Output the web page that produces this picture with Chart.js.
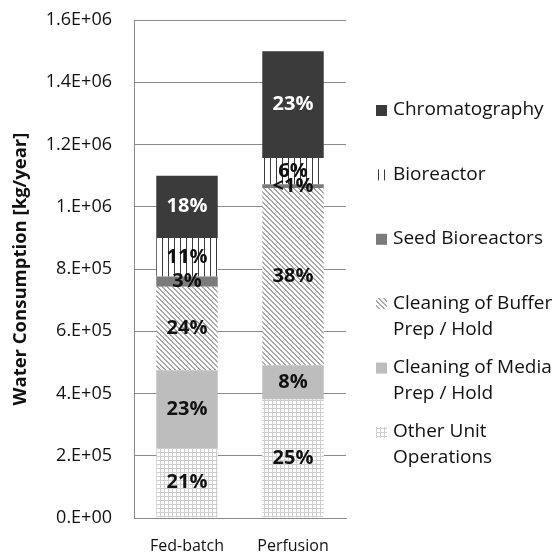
<!DOCTYPE html>
<html>
<head>
<meta charset="utf-8">
<script src="https://cdn.jsdelivr.net/npm/chart.js@4"></script>
<style>
  html, body { margin: 0; padding: 0; background: #fff; }
  #wrap { width: 557px; height: 554px; position: relative; }
</style>
</head>
<body>
<div id="wrap"><canvas id="waterChart"></canvas></div>
<script>
const categories = ['Fed-batch', 'Perfusion'];

// kg/year, bottom of stack first
const otherUnitOps = [225000, 381000];
const cleaningMedia = [250000, 110000];
const cleaningBuffer = [268000, 569000];
const seedBioreactors = [33000, 12000];
const bioreactor = [124000, 85000];
const chromatography = [200000, 343000];

const otherLabels = ['21%', '25%'];
const mediaLabels = ['23%', '8%'];
const bufferLabels = ['24%', '38%'];
const seedLabels = ['3%', '<1%'];
const bioreactorLabels = ['11%', '6%'];
const chromLabels = ['18%', '23%'];

const yTickLabels = ['0.E+00', '2.E+05', '4.E+05', '6.E+05', '8.E+05', '1.E+06', '1.2E+06', '1.4E+06', '1.6E+06'];

const FONT = '"Open Sans", "Noto Sans", sans-serif';

const makePattern = (w, h, draw) => {
    const c = document.createElement('canvas');
    c.width = w;
    c.height = h;
    const g = c.getContext('2d');
    g.fillStyle = '#ffffff';
    g.fillRect(0, 0, w, h);
    draw(g, w, h);
    return document.createElement('canvas').getContext('2d').createPattern(c, 'repeat');
};

const gridPattern = makePattern(4, 4, (g) => {
    g.fillStyle = '#cfcfcf';
    g.fillRect(0, 0, 4, 1);
    g.fillRect(0, 0, 1, 4);
});

const diagPattern = makePattern(5, 5, (g) => {
    g.fillStyle = '#a9a9a9';
    for (let y = 0; y < 5; y++) {
        for (let x = 0; x < 5; x++) {
            const d = ((x - y) % 5 + 5) % 5;
            if (d === 0 || d === 1) g.fillRect(x, y, 1, 1);
        }
    }
});

const vertPattern = makePattern(6, 1, (g) => {
    g.fillStyle = '#3a3a3a';
    g.fillRect(0, 0, 1, 1);
});

const series = [
    { name: ['Other Unit', 'Operations'], data: otherUnitOps, labels: otherLabels, fill: gridPattern, text: '#111' },
    { name: ['Cleaning of Media', 'Prep / Hold'], data: cleaningMedia, labels: mediaLabels, fill: '#bdbdbd', text: '#111' },
    { name: ['Cleaning of Buffer', 'Prep / Hold'], data: cleaningBuffer, labels: bufferLabels, fill: diagPattern, text: '#111' },
    { name: ['Seed Bioreactors'], data: seedBioreactors, labels: seedLabels, fill: '#7b7b7b', text: '#111' },
    { name: ['Bioreactor'], data: bioreactor, labels: bioreactorLabels, fill: vertPattern, text: '#111' },
    { name: ['Chromatography'], data: chromatography, labels: chromLabels, fill: '#3b3b3b', text: '#ffffff' }
];

const segmentLabels = {
    id: 'segmentLabels',
    afterDatasetsDraw(chart) {
        const { ctx } = chart;
        ctx.save();
        ctx.font = `bold 20px ${FONT}`;
        ctx.textAlign = 'center';
        ctx.textBaseline = 'middle';
        chart.data.datasets.forEach((ds, i) => {
            const meta = chart.getDatasetMeta(i);
            meta.data.forEach((bar, j) => {
                const text = ds.pctLabels[j];
                if (!text) return;
                ctx.fillStyle = ds.textColor;
                ctx.fillText(text, bar.x, (bar.y + bar.base) / 2);
            });
        });
        ctx.restore();
    }
};

const sideLegend = {
    id: 'sideLegend',
    afterDraw(chart) {
        const { ctx } = chart;
        ctx.save();
        ctx.font = `19px ${FONT}`;
        ctx.textBaseline = 'middle';
        ctx.textAlign = 'left';
        const items = chart.data.datasets.slice().reverse();
        items.forEach((ds, k) => {
            const y = 110 + k * 64.4;
            ctx.fillStyle = ds.backgroundColor;
            ctx.fillRect(376, y - 5, 11, 11);
            ctx.fillStyle = '#111';
            ds.nameLines.forEach((line, n) => {
                ctx.fillText(line, 393, y + n * 26);
            });
        });
        ctx.restore();
    }
};

new Chart(document.getElementById('waterChart'), {
    type: 'bar',
    data: {
        labels: categories,
        datasets: series.map((s) => ({
            label: s.name.join(' '),
            nameLines: s.name,
            data: s.data,
            pctLabels: s.labels,
            textColor: s.text,
            backgroundColor: s.fill,
            borderWidth: 0,
            categoryPercentage: 1,
            barPercentage: 0.58
        }))
    },
    options: {
        responsive: true,
        maintainAspectRatio: false,
        animation: false,
        events: [],
        layout: {
            padding: { left: 6, right: 211, top: 20, bottom: 0 }
        },
        scales: {
            x: {
                stacked: true,
                grid: { display: false, drawTicks: false },
                border: { display: true, color: '#8a8a8a', width: 1 },
                ticks: {
                    color: '#111',
                    font: { family: FONT, size: 16 },
                    padding: 19
                },
                afterFit: (scale) => { scale.height = 36; }
            },
            y: {
                stacked: true,
                min: 0,
                max: 1600000,
                grid: { color: '#8a8a8a', lineWidth: 1, drawTicks: false },
                border: { display: true, color: '#8a8a8a', width: 1 },
                ticks: {
                    stepSize: 200000,
                    color: '#111',
                    font: { family: FONT, size: 18 },
                    padding: 22,
                    callback: (value, index) => yTickLabels[index]
                },
                title: {
                    display: true,
                    text: 'Water Consumption [kg/year]',
                    color: '#111',
                    font: { family: FONT, size: 18.5, weight: 'bold' }
                },
                afterFit: (scale) => {
                    scale.width = 128;
                    scale.paddingTop = 0;
                    scale.paddingBottom = 0;
                }
            }
        },
        plugins: {
            legend: { display: false },
            tooltip: { enabled: false }
        }
    },
    plugins: [segmentLabels, sideLegend]
});
</script>
</body>
</html>
